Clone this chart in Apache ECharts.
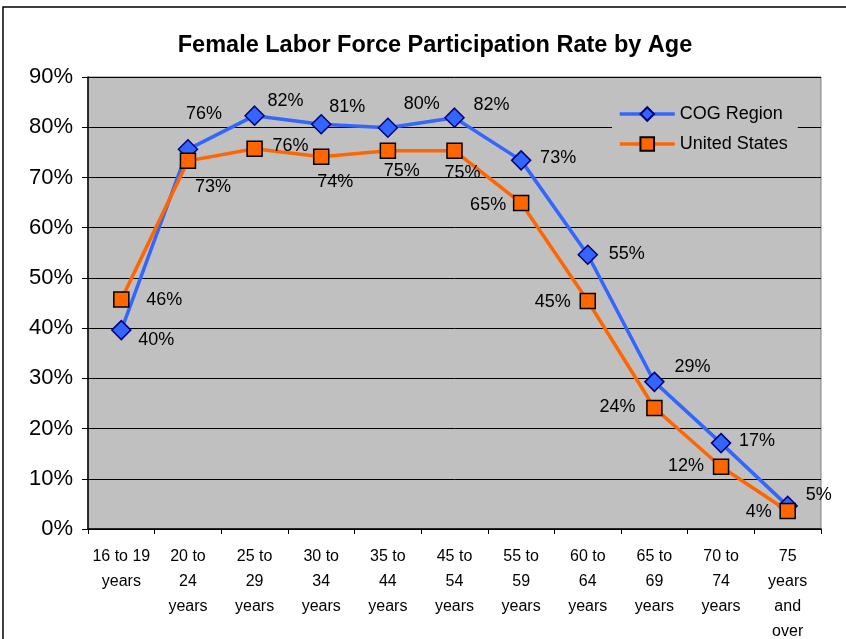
<!DOCTYPE html>
<html>
<head>
<meta charset="utf-8">
<script src="https://cdn.jsdelivr.net/npm/echarts@6/dist/echarts.min.js"></script>
<style>
html, body { margin: 0; padding: 0; background: #fff; }
#main { width: 846px; height: 639px; }
</style>
</head>
<body>
<div id="main"></div>
<script>
// 数据
var ageGroups = ['16 to 19\nyears', '20 to\n24\nyears', '25 to\n29\nyears', '30 to\n34\nyears', '35 to\n44\nyears',
	'45 to\n54\nyears', '55 to\n59\nyears', '60 to\n64\nyears', '65 to\n69\nyears', '70 to\n74\nyears', '75\nyears\nand\nover']
var cogRegion = [39.6, 75.6, 82.3, 80.6, 79.9, 81.9, 73.4, 54.6, 29.3, 17.1, 4.6]
var unitedStates = [45.7, 73.3, 75.7, 74.1, 75.3, 75.3, 64.9, 45.4, 24.1, 12.4, 3.6]
var yTicks = [0, 10, 20, 30, 40, 50, 60, 70, 80, 90]

// 标签偏移（相对于点中心）
var cogOffsets = [[35, 10], [16, -35], [31, -15], [26, -17], [34, -24], [37, -13], [37, -2], [39, -1], [38, -15], [36, -2], [31, -11]]
var usOffsets = [[43, 1], [25, 26], [36, -3], [14, 25], [14, 20], [8, 22], [-33, 2], [-35, 1], [-37, -1], [-35, -1], [-29, 1]]

function withLabels(values, offsets) {
	return values.map(function(v, i) {
		return {
			value: v,
			label: { show: true, position: 'inside', offset: offsets[i] }
		}
	})
}

var font = 'Liberation Sans, Arial, sans-serif'
var myChart = echarts.init(document.getElementById('main'))
var option = {
	backgroundColor: '#fff',
	animation: false,
	title: {
		text: 'Female Labor Force Participation Rate by Age',
		left: 430,
		top: 29,
		textAlign: 'center',
		textStyle: { fontFamily: font, fontSize: 23.5, fontWeight: 'bold', color: '#000' }
	},
	graphic: [{
		type: 'polyline',
		shape: { points: [[3, 639], [3, 7], [846, 7]] },
		style: { stroke: '#000', lineWidth: 1.5, fill: null }
	}],
	legend: {
		orient: 'vertical',
		left: 612,
		top: 101,
		padding: [4, 10, 4, 6],
		itemGap: 12,
		itemWidth: 55,
		itemHeight: 17,
		backgroundColor: '#c0c0c0',
		textStyle: { fontFamily: font, fontSize: 18, color: '#000' },
		data: [
			{ name: 'COG Region', lineStyle: { width: 3.5 } },
			{ name: 'United States', lineStyle: { width: 3.5 } }
		]
	},
	grid: {
		left: 88, top: 77, right: 25, bottom: 110,
		outerBoundsMode: 'none',
		containLabel: false,
		show: true,
		backgroundColor: '#c0c0c0',
		borderColor: '#808080',
		borderWidth: 1
	},
	xAxis: {
		type: 'category',
		data: ageGroups,
		boundaryGap: true,
		axisLine: { lineStyle: { color: '#000', width: 1.5 } },
		axisTick: { show: true, length: 5, lineStyle: { color: '#000' } },
		axisLabel: {
			interval: 0,
			margin: 15,
			fontFamily: 'Liberation Sans Narrow, Liberation Sans, Arial, sans-serif',
			fontSize: 16,
			lineHeight: 25,
			color: '#000'
		}
	},
	yAxis: {
		type: 'value',
		min: yTicks[0],
		max: yTicks[yTicks.length - 1],
		interval: 10,
		axisLine: { show: true, lineStyle: { color: '#000', width: 1.5 } },
		axisTick: { show: true, length: 6, lineStyle: { color: '#000' } },
		axisLabel: {
			formatter: '{value}%',
			margin: 15,
			fontFamily: font,
			fontSize: 22,
			color: '#000'
		},
		splitLine: { show: true, lineStyle: { color: '#000', width: 1 } }
	},
	series: [{
		name: 'COG Region',
		type: 'line',
		data: withLabels(cogRegion, cogOffsets),
		symbol: 'diamond',
		symbolSize: 19,
		lineStyle: { color: '#3366ff', width: 3.5 },
		itemStyle: { color: '#3366ff', borderColor: '#000080', borderWidth: 1.5 },
		label: {
			formatter: function(p) { return Math.round(p.value) + '%' },
			fontFamily: font, fontSize: 18, color: '#000'
		},
		z: 2
	}, {
		name: 'United States',
		type: 'line',
		data: withLabels(unitedStates, usOffsets),
		symbol: 'rect',
		symbolSize: 15,
		lineStyle: { color: '#ff6600', width: 3.5 },
		itemStyle: { color: '#ff6600', borderColor: '#000', borderWidth: 1.5 },
		label: {
			formatter: function(p) { return Math.round(p.value) + '%' },
			fontFamily: font, fontSize: 18, color: '#000'
		},
		z: 3
	}]
}
myChart.setOption(option)
</script>
</body>
</html>
